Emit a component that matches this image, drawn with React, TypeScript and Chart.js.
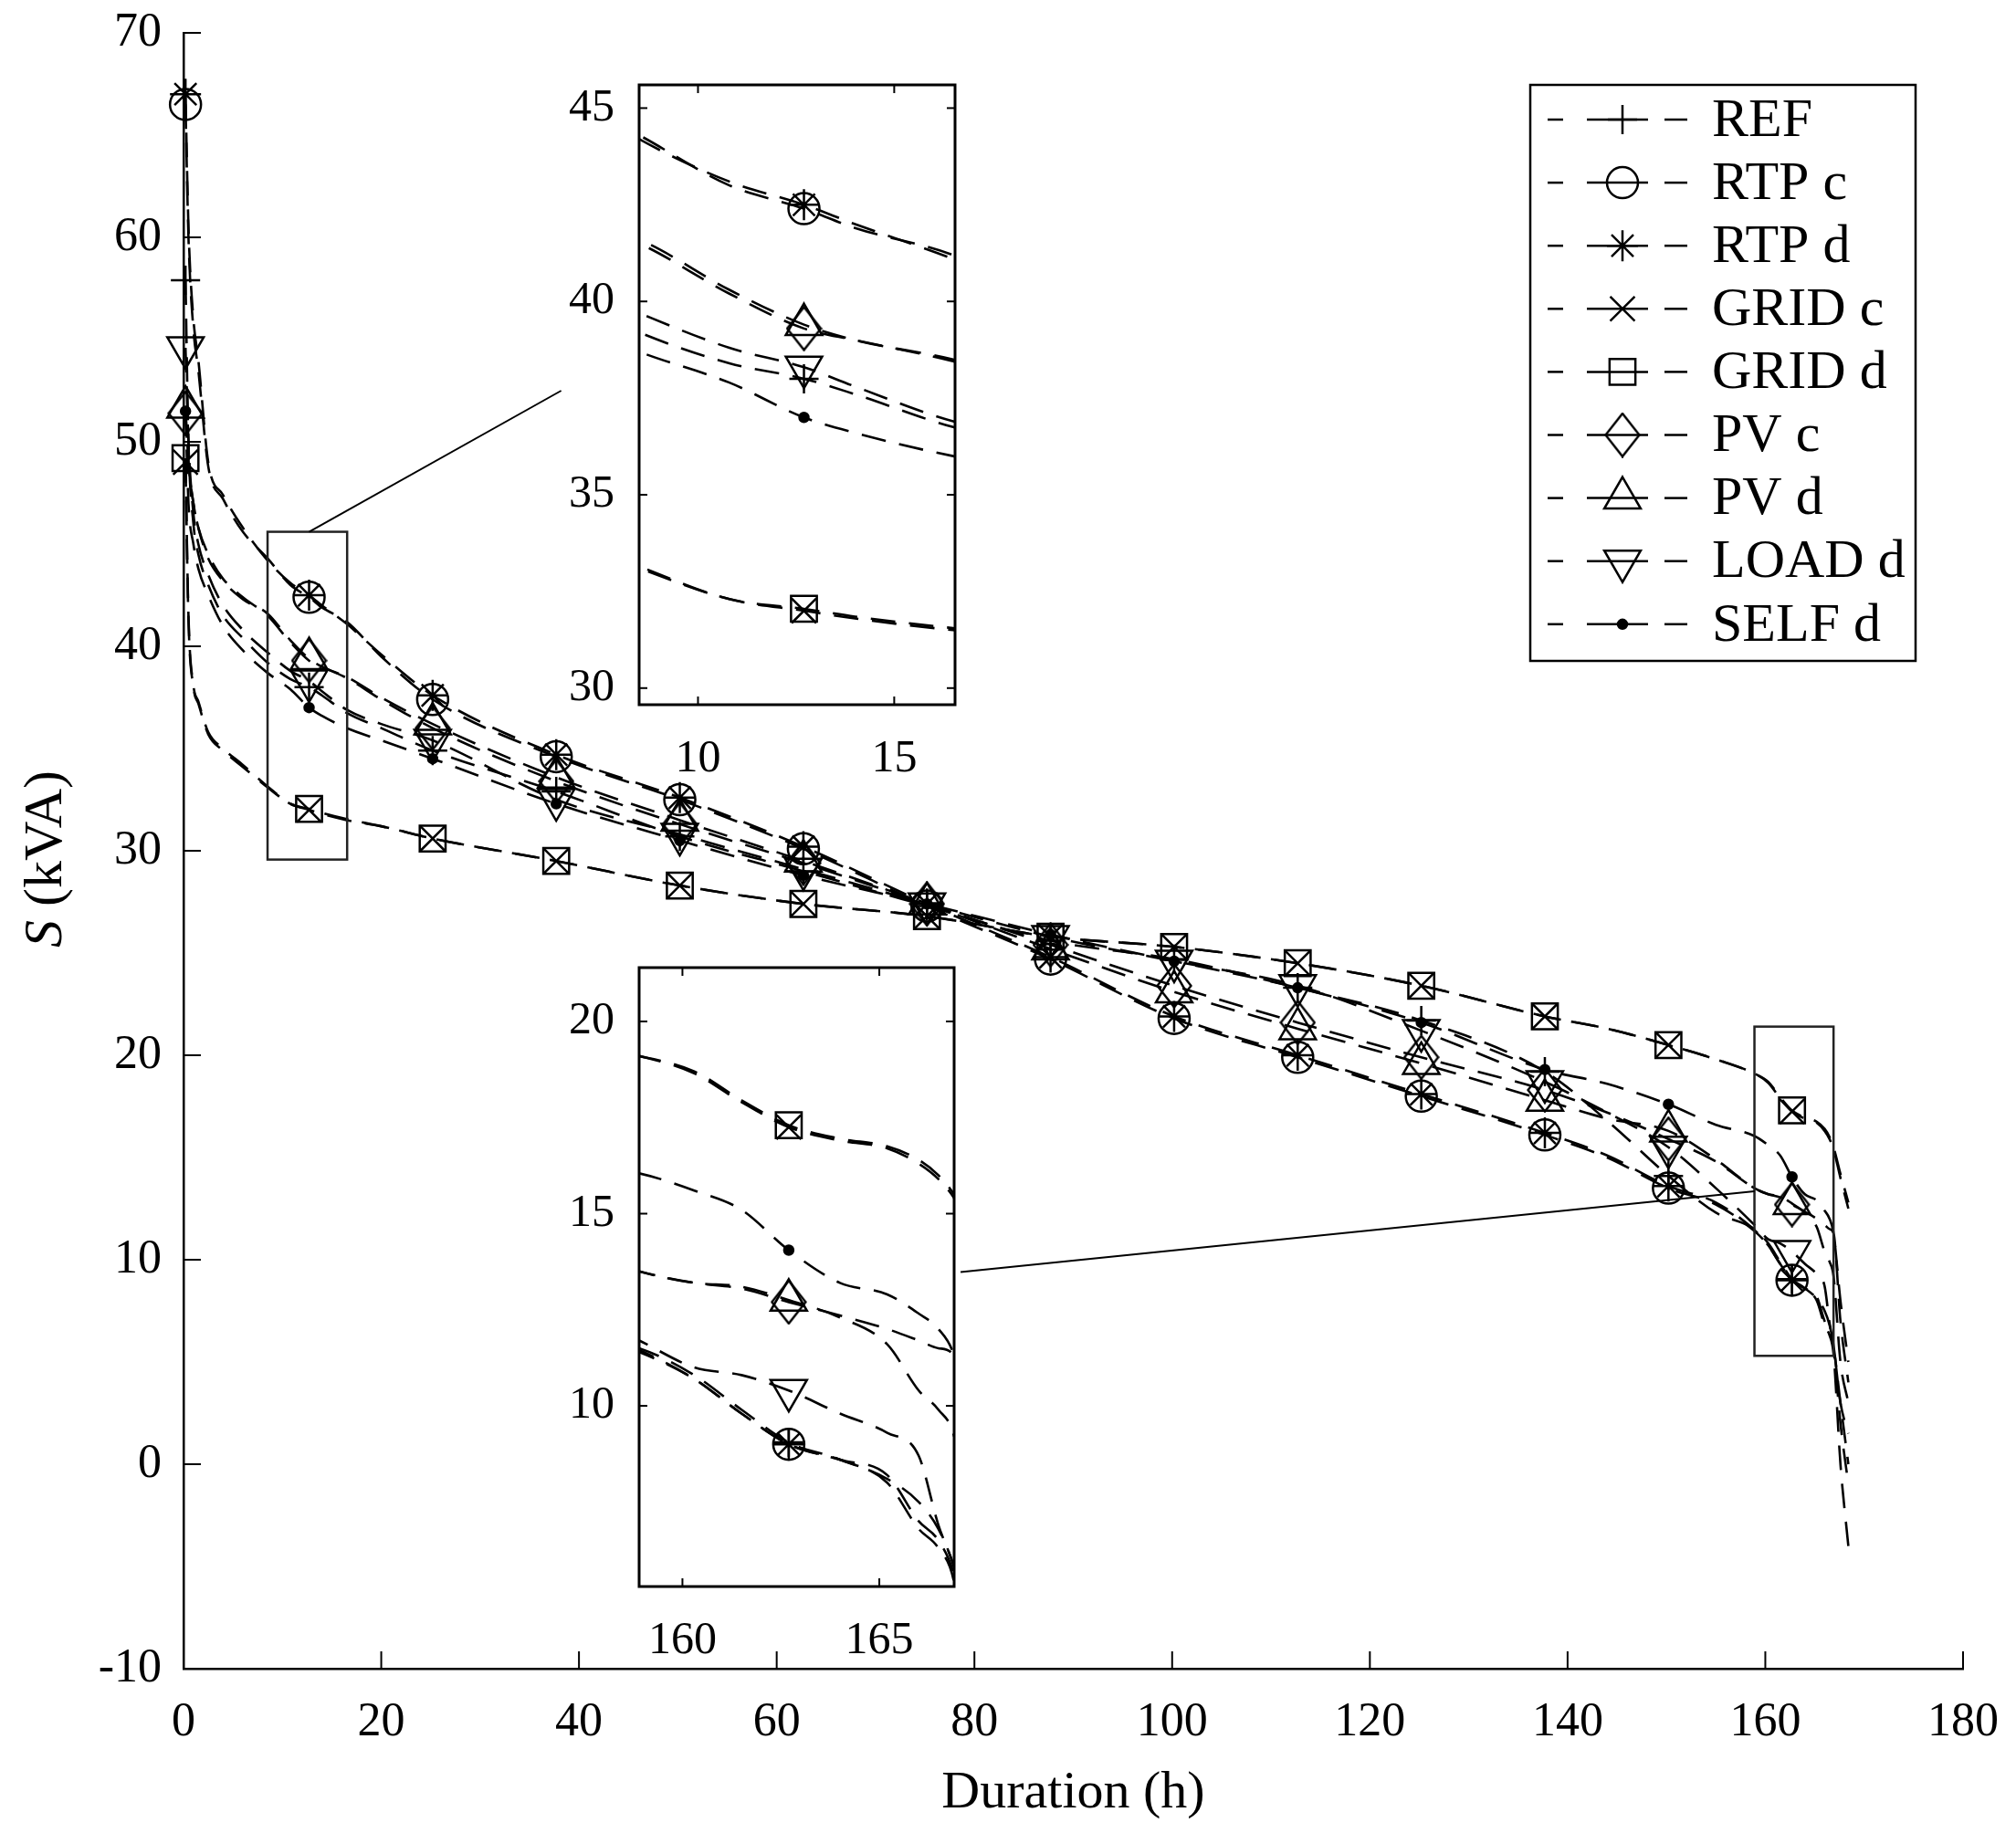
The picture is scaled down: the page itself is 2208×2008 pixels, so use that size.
import { useEffect, useRef } from "react";
import { Chart, registerables } from "chart.js";
import { drawPoint } from "chart.js/helpers";

Chart.register(...registerables);

const FONT = "'Liberation Serif', 'Times New Roman', serif";

const HOURS = [
  0.2, 0.5, 1, 1.5, 2.5, 4, 6, 8.5, 10.8, 12.7, 14, 16.5, 20, 25.2, 37.7, 50.2, 62.7, 75.2, 87.7,
  100.2, 112.7, 125.2, 137.7, 144, 150.2, 155, 158.9, 160.3, 161.5, 162.7, 164, 165.2, 166, 166.5,
  166.9, 167.6, 168.4,
];
// markers are only shown every 12.5 h
const MARKER_HOURS = [0.2, 12.7, 25.2, 37.7, 50.2, 62.7, 75.2, 87.7, 100.2, 112.7, 125.2, 137.7, 150.2, 162.7];

const REF = [
  57.9, 50, 46, 44.5, 43, 41.5, 40.4, 39.2, 38.4, 38.0, 37.6, 36.75, 36.0, 34.9, 32.9, 30.7, 29.0, 27.3,
  25.6, 24.7, 23.3, 21.7, 19.2, 16.8, 14.1, 12.3, 11.5, 10.8, 9.9, 9.05, 8.6, 8.0, 6.8, 6.3, 5.4, 0, -4,
];
const RTP_C = [
  66.5, 60, 55.5, 53.5, 48.8, 47.2, 45.6, 44.3, 43.0, 42.4, 41.9, 41.2, 39.5, 37.4, 34.6, 32.5, 30.1,
  27.3, 24.7, 21.8, 19.9, 18.0, 16.1, 15.0, 13.5, 12.7, 11.4, 10.7, 9.8, 9.0, 8.6, 8.1, 7.5, 6.8, 5.8, 3, 0,
];
const RTP_D = [
  67, 60.5, 56, 54, 49, 47.4, 45.8, 44.2, 43.1, 42.5, 42.0, 41.1, 39.6, 37.6, 34.7, 32.6, 30.2, 27.4,
  24.8, 21.9, 20.0, 18.1, 16.2, 15.1, 13.6, 12.8, 11.45, 10.7, 9.8, 9.0, 8.6, 8.2, 7.0, 6.5, 5.6, 2, -1,
];
const GRID_C = [
  49.0, 41.3, 38.0, 37.2, 35.7, 34.9, 34.1, 33.1, 32.3, 32.0, 31.8, 31.5, 31.2, 30.6, 29.5, 28.3, 27.4,
  26.8, 25.8, 25.3, 24.5, 23.4, 21.9, 21.3, 20.5, 19.8, 19.1, 18.65, 17.9, 17.25, 16.9, 16.7, 16.3,
  15.9, 15.4, 14.0, 12.5,
];
const GRID_D = [
  49.2, 41.5, 38.1, 37.3, 35.8, 35.0, 34.2, 33.15, 32.3, 32.05, 31.85, 31.55, 31.2, 30.6, 29.5, 28.3,
  27.4, 26.8, 25.8, 25.3, 24.5, 23.4, 21.9, 21.3, 20.5, 19.8, 19.1, 18.7, 17.95, 17.3, 16.95, 16.75,
  16.4, 16.0, 15.5, 14.2, 12.8,
];
const PV_C = [
  51.4, 49, 47, 45.8, 44.5, 43.3, 42.4, 41.5, 40.2, 39.3, 39.0, 38.45, 37.4, 36.0, 33.4, 31.3, 29.4,
  27.4, 25.4, 23.4, 21.6, 19.9, 18.3, 17.2, 15.9, 14.8, 13.5, 13.2, 13.05, 12.7, 12.35, 12.0, 11.7,
  11.5, 11.3, 7, 4,
];
const PV_D = [
  51.7, 49, 47, 45.8, 44.3, 43.2, 42.3, 41.6, 40.3, 39.4, 39.0, 38.5, 37.5, 36.2, 33.6, 31.5, 29.5,
  27.4, 25.2, 23.1, 21.3, 19.6, 17.8, 16.9, 16.3, 14.9, 13.5, 13.2, 13.1, 12.75, 12.3, 11.6, 10.4, 9.9,
  9.2, 5, 3,
];
const LOAD_D = [
  54.6, 50, 46.5, 45, 43.5, 42, 40.8, 39.7, 38.8, 38.3, 37.8, 36.9, 36.2, 35.4, 32.5, 30.8, 29.1, 27.4,
  25.8, 24.6, 23.4, 21.2, 18.7, 17.2, 15.5, 13.5, 11.7, 11.0, 10.8, 10.4, 9.8, 9.3, 8.7, 6.9, 5.8, 3, 1.5,
];
const SELF_D = [
  51.5, 47, 45, 43.8, 42.5, 41, 39.8, 38.7, 37.9, 37.0, 36.6, 36.0, 35.4, 34.5, 32.3, 30.5, 28.8, 27.4,
  25.9, 24.6, 23.3, 21.6, 19.3, 18.6, 17.6, 16.6, 16.05, 15.6, 15.1, 14.05, 13.2, 12.9, 12.4, 12.0,
  11.3, 8, 5,
];

const X_TICKS = [0, 20, 40, 60, 80, 100, 120, 140, 160, 180];
const Y_TICKS = [-10, 0, 10, 20, 30, 40, 50, 60, 70];
const INSET1_X_TICKS = [10, 15];
const INSET1_Y_TICKS = [30, 35, 40, 45];
const INSET2_X_TICKS = [160, 165];
const INSET2_Y_TICKS = [10, 15, 20];

// zoomed ranges (also drawn as boxes on the main axes)
const INSET1_X = [8.5, 16.55];
const INSET1_Y = [29.57, 45.6];
const INSET2_X = [158.9, 166.9];
const INSET2_Y = [5.3, 21.4];

// annotation lines from the zoom boxes toward the insets: [x0, y0, x1, y1] in data units
const CONNECTORS = [
  [12.7, 45.6, 38.2, 52.5],
  [158.9, 13.35, 78.6, 9.4],
];

type Series = {
  label: string;
  values: number[];
  style: any;
  radius: number;
  rotation?: number;
  filled?: boolean;
};

// MATLAB's diamond is taller than it is wide
function diamondMarker(w: number, h: number) {
  const c = document.createElement("canvas");
  c.width = w;
  c.height = h;
  const g = c.getContext("2d")!;
  g.strokeStyle = "#000";
  g.lineWidth = 2.5;
  g.beginPath();
  g.moveTo(w / 2, 1.5);
  g.lineTo(w - 1.5, h / 2);
  g.lineTo(w / 2, h - 1.5);
  g.lineTo(1.5, h / 2);
  g.closePath();
  g.stroke();
  return c;
}

function makeSeries(): Series[] {
  return [
    { label: "REF", values: REF, style: "cross", radius: 16 },
    { label: "RTP c", values: RTP_C, style: "circle", radius: 17 },
    { label: "RTP d", values: RTP_D, style: "star", radius: 17 },
    { label: "GRID c", values: GRID_C, style: "crossRot", radius: 19 },
    { label: "GRID d", values: GRID_D, style: "rect", radius: 20 },
    { label: "PV c", values: PV_C, style: diamondMarker(40, 50), radius: 20 },
    { label: "PV d", values: PV_D, style: "triangle", radius: 23 },
    { label: "LOAD d", values: LOAD_D, style: "triangle", radius: 23, rotation: 180 },
    { label: "SELF d", values: SELF_D, style: "circle", radius: 5, filled: true },
  ];
}

function makeDatasets(series: Series[], clip: boolean) {
  return series.map((s) => ({
    label: s.label,
    data: HOURS.map((h, i) => ({ x: h, y: s.values[i] })),
    borderColor: "#000",
    borderWidth: 2.6,
    borderDash: [27, 15],
    cubicInterpolationMode: "monotone",
    pointStyle: s.style,
    pointRotation: s.rotation ?? 0,
    pointRadius: (c: any) => (MARKER_HOURS.includes(HOURS[c.dataIndex]) ? s.radius : 0),
    pointBorderColor: "#000",
    pointBorderWidth: 2.5,
    pointBackgroundColor: s.filled ? "#000" : "rgba(0,0,0,0)",
    ...(clip ? {} : { clip: false }),
  }));
}

function line(ctx: CanvasRenderingContext2D, x0: number, y0: number, x1: number, y1: number) {
  ctx.beginPath();
  ctx.moveTo(x0, y0);
  ctx.lineTo(x1, y1);
  ctx.stroke();
}

// keep the plot area where the layout padding puts it
function fixX(height: number) {
  return (s: any) => {
    s.height = height;
    s.paddingLeft = 0;
    s.paddingRight = 0;
  };
}
function fixY(width: number) {
  return (s: any) => {
    s.width = width;
    s.paddingTop = 0;
    s.paddingBottom = 0;
  };
}

function mainDecor(series: Series[]) {
  return {
    id: "mainDecor",
    afterDraw(chart: any) {
      const { ctx, chartArea: a, scales } = chart;
      const x = scales.x;
      const y = scales.y;
      ctx.save();
      ctx.strokeStyle = "#000";
      ctx.fillStyle = "#000";

      // inward ticks
      ctx.lineWidth = 2;
      y.ticks.forEach((t: any) => {
        const py = y.getPixelForValue(t.value);
        line(ctx, a.left, py, a.left + 19, py);
      });
      x.ticks.forEach((t: any) => {
        const px = x.getPixelForValue(t.value);
        line(ctx, px, a.bottom, px, a.bottom - 19);
      });

      // zoom boxes
      ctx.lineWidth = 2.5;
      ctx.strokeStyle = "#222";
      [
        [INSET1_X, INSET1_Y],
        [INSET2_X, INSET2_Y],
      ].forEach(([bx, by]) => {
        const l = x.getPixelForValue(bx[0]);
        const r = x.getPixelForValue(bx[1]);
        const t = y.getPixelForValue(by[1]);
        const b = y.getPixelForValue(by[0]);
        ctx.strokeRect(l, t, r - l, b - t);
      });
      ctx.lineWidth = 2;
      ctx.strokeStyle = "#000";
      CONNECTORS.forEach(([x0, y0, x1, y1]) => {
        line(ctx, x.getPixelForValue(x0), y.getPixelForValue(y0), x.getPixelForValue(x1), y.getPixelForValue(y1));
      });

      // axis titles
      ctx.textBaseline = "middle";
      ctx.textAlign = "center";
      ctx.font = `58px ${FONT}`;
      ctx.fillText("Duration (h)", (a.left + a.right) / 2, a.bottom + 137);

      ctx.save();
      ctx.translate(51, (a.top + a.bottom) / 2 + 9);
      ctx.rotate(-Math.PI / 2);
      ctx.textAlign = "left";
      const italic = `italic 60px ${FONT}`;
      const normal = `60px ${FONT}`;
      ctx.font = italic;
      const wS = ctx.measureText("S").width;
      ctx.font = normal;
      const wRest = ctx.measureText(" (kVA)").width;
      const start = -(wS + wRest) / 2;
      ctx.font = italic;
      ctx.fillText("S", start, 0);
      ctx.font = normal;
      ctx.fillText(" (kVA)", start + wS, 0);
      ctx.restore();

      // legend
      const bx = a.right - 474;
      const by = a.top + 57;
      ctx.lineWidth = 2.5;
      ctx.strokeRect(bx, by, 422, 631);
      ctx.font = `60px ${FONT}`;
      ctx.textAlign = "left";
      series.forEach((s, i) => {
        const ry = by + 38 + i * 69.1;
        ctx.lineWidth = 2.5;
        ctx.setLineDash([]);
        line(ctx, bx + 19, ry, bx + 36, ry);
        line(ctx, bx + 62, ry, bx + 129, ry);
        line(ctx, bx + 147, ry, bx + 172, ry);
        ctx.fillStyle = s.filled ? "#000" : "rgba(0,0,0,0)";
        drawPoint(
          ctx,
          { pointStyle: s.style, radius: s.radius, rotation: s.rotation ?? 0, borderWidth: 2.5 },
          bx + 101,
          ry
        );
        ctx.fillStyle = "#000";
        ctx.fillText(s.label, bx + 199, ry + 2);
      });
      ctx.restore();
    },
  };
}

const insetDecor = {
  id: "insetDecor",
  beforeDraw(chart: any) {
    const { ctx, chartArea: a } = chart;
    ctx.save();
    ctx.fillStyle = "#fff";
    ctx.fillRect(a.left, a.top, a.right - a.left, a.bottom - a.top);
    ctx.restore();
  },
  afterDraw(chart: any) {
    const { ctx, chartArea: a, scales } = chart;
    ctx.save();
    ctx.strokeStyle = "#000";
    ctx.lineWidth = 2;
    scales.y.ticks.forEach((t: any) => {
      const py = scales.y.getPixelForValue(t.value);
      line(ctx, a.left, py, a.left + 9, py);
      line(ctx, a.right, py, a.right - 9, py);
    });
    scales.x.ticks.forEach((t: any) => {
      const px = scales.x.getPixelForValue(t.value);
      line(ctx, px, a.bottom, px, a.bottom - 9);
      line(ctx, px, a.top, px, a.top + 9);
    });
    ctx.lineWidth = 3;
    ctx.strokeRect(a.left, a.top, a.right - a.left, a.bottom - a.top);
    ctx.restore();
  },
};

function mainConfig(series: Series[]): any {
  const tickFont = { family: FONT, size: 52 };
  return {
    type: "line",
    data: { datasets: makeDatasets(series, false) },
    options: {
      animation: false,
      responsive: false,
      devicePixelRatio: 1,
      events: [],
      layout: { padding: { top: 36, right: 58, left: 0, bottom: 0 } },
      plugins: { legend: { display: false }, tooltip: { enabled: false } },
      scales: {
        x: {
          type: "linear",
          min: 0,
          max: 180,
          grid: { display: false, drawTicks: false },
          border: { display: true, color: "#000", width: 2.5 },
          ticks: { font: tickFont, color: "#000", padding: 28, maxRotation: 0 },
          afterBuildTicks: (s: any) => {
            s.ticks = X_TICKS.map((v) => ({ value: v }));
          },
          afterFit: fixX(180),
        },
        y: {
          type: "linear",
          min: -10,
          max: 70,
          grid: { display: false, drawTicks: false },
          border: { display: true, color: "#000", width: 2.5 },
          ticks: { font: tickFont, color: "#000", padding: 24 },
          afterBuildTicks: (s: any) => {
            s.ticks = Y_TICKS.map((v) => ({ value: v }));
          },
          afterFit: fixY(201),
        },
      },
    },
    plugins: [mainDecor(series)],
  };
}

function insetConfig(
  series: Series[],
  xr: number[],
  yr: number[],
  xt: number[],
  yt: number[],
  pad: { top: number; right: number },
  xHeight: number,
  xPad: number
): any {
  const tickFont = { family: FONT, size: 50 };
  return {
    type: "line",
    data: { datasets: makeDatasets(series, true) },
    options: {
      animation: false,
      responsive: false,
      devicePixelRatio: 1,
      events: [],
      layout: { padding: { top: pad.top, right: pad.right, left: 0, bottom: 0 } },
      plugins: { legend: { display: false }, tooltip: { enabled: false } },
      scales: {
        x: {
          type: "linear",
          min: xr[0],
          max: xr[1],
          grid: { display: false, drawTicks: false },
          border: { display: false },
          ticks: { font: tickFont, color: "#000", padding: xPad, maxRotation: 0 },
          afterBuildTicks: (s: any) => {
            s.ticks = xt.map((v) => ({ value: v }));
          },
          afterFit: fixX(xHeight),
        },
        y: {
          type: "linear",
          min: yr[0],
          max: yr[1],
          grid: { display: false, drawTicks: false },
          border: { display: false },
          ticks: { font: tickFont, color: "#000", padding: 27 },
          afterBuildTicks: (s: any) => {
            s.ticks = yt.map((v) => ({ value: v }));
          },
          afterFit: fixY(100),
        },
      },
    },
    plugins: [insetDecor],
  };
}

export default function App() {
  const mainRef = useRef<HTMLCanvasElement>(null);
  const inset1Ref = useRef<HTMLCanvasElement>(null);
  const inset2Ref = useRef<HTMLCanvasElement>(null);

  useEffect(() => {
    document.body.style.margin = "0";
    document.body.style.overflow = "hidden";
    const series = makeSeries();
    const charts = [
      new Chart(mainRef.current!, mainConfig(series)),
      new Chart(
        inset1Ref.current!,
        insetConfig(series, INSET1_X, INSET1_Y, INSET1_X_TICKS, INSET1_Y_TICKS, { top: 33, right: 34 }, 108, 30)
      ),
      new Chart(
        inset2Ref.current!,
        insetConfig(series, INSET2_X, INSET2_Y, INSET2_X_TICKS, INSET2_Y_TICKS, { top: 30, right: 35 }, 112, 30)
      ),
    ];
    return () => {
      charts.forEach((c) => c.destroy());
    };
  }, []);

  return (
    <div style={{ position: "relative", width: 2208, height: 2008, background: "#fff", overflow: "hidden" }}>
      <canvas ref={mainRef} width={2208} height={2008} style={{ position: "absolute", left: 0, top: 0 }} />
      <canvas ref={inset1Ref} width={480} height={820} style={{ position: "absolute", left: 600, top: 60 }} />
      <canvas ref={inset2Ref} width={480} height={820} style={{ position: "absolute", left: 600, top: 1030 }} />
    </div>
  );
}
